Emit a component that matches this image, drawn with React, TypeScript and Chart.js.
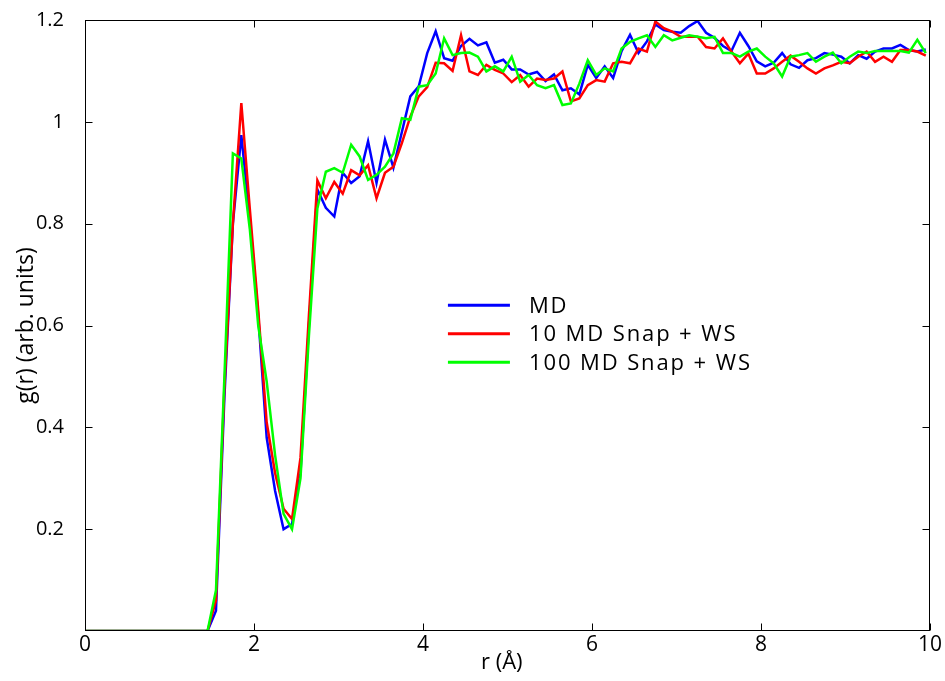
import React, { useEffect, useRef } from "react";
import { Chart, registerables } from "chart.js";

Chart.register(...registerables);

// r (Å) sample positions
const rValues = [
  0, 1.45, 1.55, 1.65, 1.75, 1.85, 1.95, 2.05, 2.15, 2.25, 2.35, 2.45, 2.55, 2.65,
  2.75, 2.85, 2.95, 3.05, 3.15, 3.25, 3.35, 3.45, 3.55, 3.65,
  3.75, 3.85, 3.95, 4.05, 4.15, 4.25, 4.35, 4.45, 4.55, 4.65,
  4.75, 4.85, 4.95, 5.05, 5.15, 5.25, 5.35, 5.45, 5.55, 5.65,
  5.75, 5.85, 5.95, 6.05, 6.15, 6.25, 6.35, 6.45, 6.55, 6.65,
  6.75, 6.85, 6.95, 7.05, 7.15, 7.25, 7.35, 7.45, 7.55, 7.65,
  7.75, 7.85, 7.95, 8.05, 8.15, 8.25, 8.35, 8.45, 8.55, 8.65,
  8.75, 8.85, 8.95, 9.05, 9.15, 9.25, 9.35, 9.45, 9.55, 9.65,
  9.75, 9.85, 9.95,
];

// g(r) — MD
const mdValues = [
  0, 0, 0.04, 0.46, 0.8, 0.974, 0.81, 0.62, 0.38, 0.275, 0.2, 0.21, 0.31, 0.6,
  0.867, 0.831, 0.814, 0.9, 0.88, 0.893, 0.962, 0.88, 0.965, 0.91,
  0.98, 1.05, 1.07, 1.135, 1.178, 1.125, 1.12, 1.149, 1.163, 1.15,
  1.156, 1.116, 1.122, 1.103, 1.103, 1.093, 1.098, 1.08, 1.093, 1.062,
  1.066, 1.054, 1.112, 1.086, 1.109, 1.086, 1.139, 1.171, 1.135, 1.158,
  1.191, 1.18, 1.177, 1.175, 1.188, 1.198, 1.175, 1.165, 1.149, 1.139,
  1.175, 1.149, 1.119, 1.109, 1.116, 1.135, 1.113, 1.106, 1.121, 1.125,
  1.135, 1.132, 1.128, 1.115, 1.131, 1.124, 1.138, 1.144, 1.144, 1.151,
  1.141, 1.138, 1.142,
];

// g(r) — 10 MD Snap + WS
const snap10Values = [
  0, 0, 0.06, 0.48, 0.8, 1.037, 0.83, 0.63, 0.41, 0.31, 0.24, 0.22, 0.34, 0.62,
  0.885, 0.85, 0.882, 0.859, 0.905, 0.895, 0.915, 0.85, 0.9, 0.912,
  0.958, 1.01, 1.05, 1.068, 1.116, 1.115, 1.1, 1.17, 1.099, 1.092,
  1.112, 1.102, 1.095, 1.078, 1.092, 1.069, 1.085, 1.082, 1.085, 1.099,
  1.04, 1.046, 1.072, 1.082, 1.079, 1.115, 1.118, 1.115, 1.144, 1.138,
  1.197, 1.184, 1.177, 1.167, 1.167, 1.167, 1.147, 1.144, 1.164, 1.138,
  1.115, 1.134, 1.095, 1.095, 1.105, 1.118, 1.13, 1.118, 1.105, 1.095,
  1.105, 1.111, 1.118, 1.115, 1.128, 1.138, 1.118, 1.128, 1.118, 1.141,
  1.141, 1.138, 1.13,
];

// g(r) — 100 MD Snap + WS
const snap100Values = [
  0, 0, 0.08, 0.5, 0.938, 0.928, 0.79, 0.6, 0.49, 0.345, 0.23, 0.2, 0.3, 0.58,
  0.83, 0.902, 0.909, 0.9, 0.955, 0.932, 0.886, 0.896, 0.912, 0.938,
  1.007, 1.004, 1.069, 1.072, 1.095, 1.164, 1.131, 1.135, 1.136, 1.128,
  1.099, 1.109, 1.099, 1.128, 1.079, 1.092, 1.072, 1.066, 1.072, 1.033,
  1.036, 1.075, 1.121, 1.092, 1.105, 1.099, 1.144, 1.157, 1.164, 1.17,
  1.147, 1.17, 1.16, 1.165, 1.17, 1.167, 1.164, 1.167, 1.135, 1.135,
  1.128, 1.138, 1.144, 1.128, 1.115, 1.089, 1.128, 1.131, 1.135, 1.118,
  1.128, 1.136, 1.115, 1.128, 1.138, 1.135, 1.139, 1.139, 1.139, 1.139,
  1.136, 1.161, 1.135,
];

const seriesLabels = ["MD", "10 MD Snap + WS", "100 MD Snap + WS"];
const seriesColors = ["#0000ff", "#ff0000", "#00ff00"];
const xTickValues = [0, 2, 4, 6, 8, 10];
const yTickValues = [0.2, 0.4, 0.6, 0.8, 1.0, 1.2];

const FONT = "'Open Sans', sans-serif";

const framePlugin = {
  id: "frameAndLegend",
  afterDraw(chart: any) {
    const { ctx, chartArea: a, scales } = chart;
    ctx.save();
    ctx.strokeStyle = "#000";
    ctx.lineWidth = 1;
    const L = Math.round(a.left) + 0.5;
    const R = Math.round(a.right) - 0.5;
    const T = Math.round(a.top) + 0.5;
    const B = Math.round(a.bottom) - 0.5;
    ctx.strokeRect(L, T, R - L, B - T);
    const tl = 7;
    ctx.beginPath();
    for (const v of xTickValues) {
      const px = Math.round(scales.x.getPixelForValue(v)) + 0.5;
      ctx.moveTo(px, B);
      ctx.lineTo(px, B - tl);
      ctx.moveTo(px, T);
      ctx.lineTo(px, T + tl);
    }
    for (const v of yTickValues) {
      const py = Math.round(scales.y.getPixelForValue(v)) + 0.5;
      ctx.moveTo(L, py);
      ctx.lineTo(L + tl, py);
      ctx.moveTo(R, py);
      ctx.lineTo(R - tl, py);
    }
    ctx.stroke();

    // legend inside plot
    const w = a.right - a.left;
    const h = a.bottom - a.top;
    const x0 = a.left + 0.4295 * w;
    const y0 = a.top + 0.467 * h;
    const rowH = 28.5;
    const lineLen = 62;
    ctx.font = `22px ${FONT}`;
    try {
      (ctx as any).letterSpacing = "1.9px";
    } catch (e) {}
    ctx.textBaseline = "middle";
    ctx.textAlign = "left";
    seriesLabels.forEach((lab, i) => {
      const y = y0 + i * rowH;
      ctx.strokeStyle = seriesColors[i];
      ctx.lineWidth = 3;
      ctx.beginPath();
      ctx.moveTo(x0, y);
      ctx.lineTo(x0 + lineLen, y);
      ctx.stroke();
      ctx.fillStyle = "#000";
      ctx.fillText(lab, x0 + lineLen + 19, y + 1);
    });
    try {
      (ctx as any).letterSpacing = "0px";
    } catch (e) {}
    ctx.restore();
  },
};

export default function App() {
  const canvasRef = useRef<HTMLCanvasElement | null>(null);

  useEffect(() => {
    const seriesValues = [mdValues, snap10Values, snap100Values];
    const chart = new Chart(canvasRef.current as HTMLCanvasElement, {
      type: "line",
      data: {
        datasets: seriesValues.map((vals, i) => ({
          label: seriesLabels[i],
          data: rValues.map((r, k) => ({ x: r, y: vals[k] })),
          borderColor: seriesColors[i],
          backgroundColor: seriesColors[i],
          borderWidth: 2.5,
          pointRadius: 0,
          tension: 0,
          fill: false,
          order: 2 - i,
        })),
      },
      options: {
        animation: false,
        responsive: false,
        layout: { padding: { top: 20, right: 15, left: 0, bottom: 0 } },
        plugins: {
          legend: { display: false },
          tooltip: { enabled: false },
        },
        scales: {
          x: {
            type: "linear",
            min: 0,
            max: 10,
            afterFit: (s: any) => {
              s.height = 50;
              s.paddingLeft = 0;
              s.paddingRight = 0;
            },
            afterBuildTicks: (s: any) => {
              s.ticks = xTickValues.map((v) => ({ value: v }));
            },
            grid: { display: false, drawTicks: false },
            border: { display: false },
            ticks: {
              color: "#000",
              font: { family: FONT, size: 21 },
              padding: 1,
              maxRotation: 0,
              callback: (v: any) => String(v),
            },
            title: {
              display: true,
              text: "r (Å)  ",
              color: "#000",
              font: { family: FONT, size: 22 },
              padding: { top: 0, bottom: 5 },
            },
          },
          y: {
            type: "linear",
            min: 0,
            max: 1.2,
            afterFit: (s: any) => {
              s.width = 85;
              s.paddingTop = 0;
              s.paddingBottom = 0;
            },
            afterBuildTicks: (s: any) => {
              s.ticks = [0, ...yTickValues].map((v) => ({ value: v }));
            },
            grid: { display: false, drawTicks: false },
            border: { display: false },
            ticks: {
              color: "#000",
              font: { family: FONT, size: 20 },
              padding: 21,
              callback: (v: any) =>
                v === 0 ? "" : String(Math.round(v * 10) / 10),
            },
            title: {
              display: true,
              text: "g(r) (arb. units)",
              color: "#000",
              font: { family: FONT, size: 23 },
              padding: { top: 13, bottom: 0 },
            },
          },
        },
      },
      plugins: [framePlugin],
    });
    return () => chart.destroy();
  }, []);

  return (
    <div style={{ position: "fixed", left: 0, top: 0, width: 945, height: 681, background: "#fff" }}>
      <canvas ref={canvasRef} width={945} height={681} style={{ width: 945, height: 681 }} />
    </div>
  );
}
